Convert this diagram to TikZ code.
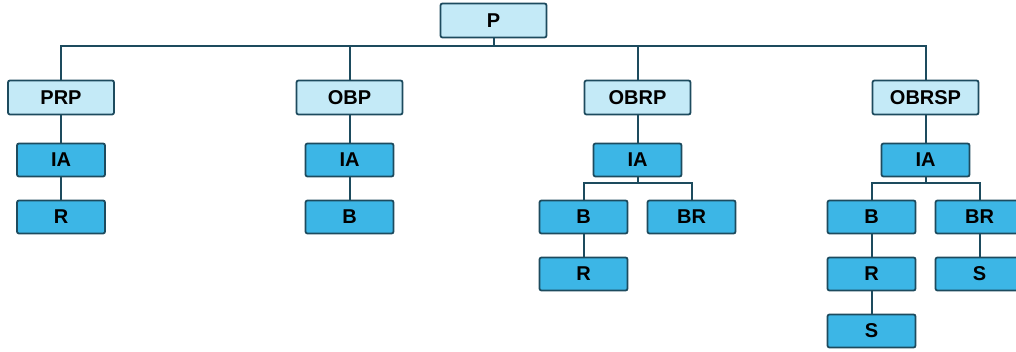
\documentclass[tikz,border=0pt]{standalone}
\usepackage{fontspec}
\setmainfont{Liberation Sans}
\definecolor{lightfill}{HTML}{C4EAF7}
\definecolor{darkfill}{HTML}{3CB6E6}
\definecolor{edge}{HTML}{1D4B5E}
\begin{document}
\begin{tikzpicture}[x=1pt,y=-1pt,
  base/.style={draw=edge,line width=1.8pt,rounded corners=2pt,inner sep=0pt,
    font=\fontsize{20}{23}\selectfont\bfseries,text=black},
  topbox/.style={base,fill=lightfill,minimum width=106pt,minimum height=34pt},
  subbox/.style={base,fill=darkfill,minimum width=88pt,minimum height=33pt},
  conn/.style={draw=edge,line width=2pt}]
\useasboundingbox (0,0) rectangle (1016,352);
\begin{scope}
\clip (0,0) rectangle (1016,352);
\node[topbox] (P) at (493.5,20.5) {P};
\node[topbox] (PRP) at (61,97.5) {PRP};
\node[topbox] (OBP) at (349.5,97.5) {OBP};
\node[topbox] (OBRP) at (637.5,97.5) {OBRP};
\node[topbox] (OBRSP) at (925.5,97.5) {OBRSP};

\node[subbox] (IA1) at (61,160) {IA};
\node[subbox] (R1) at (61,217) {R};

\node[subbox] (IA2) at (349.5,160) {IA};
\node[subbox] (B2) at (349.5,217) {B};

\node[subbox] (IA3) at (637.5,160) {IA};
\node[subbox] (B3) at (583.5,217) {B};
\node[subbox] (BR3) at (691.5,217) {BR};
\node[subbox] (R3) at (583.5,274) {R};

\node[subbox] (IA4) at (925.5,160) {IA};
\node[subbox] (B4) at (871.5,217) {B};
\node[subbox] (BR4) at (979.5,217) {BR};
\node[subbox] (R4) at (871.5,274) {R};
\node[subbox] (S4a) at (871.5,331) {S};
\node[subbox] (S4b) at (979.5,274) {S};

\begin{scope}[on background layer/.try]
\foreach \c in {PRP,OBP,OBRP,OBRSP}
  \draw[conn] (P.south) -- ++(0,7.5) -| (\c.north);
\draw[conn] (PRP) -- (IA1);
\draw[conn] (IA1) -- (R1);
\draw[conn] (OBP) -- (IA2);
\draw[conn] (IA2) -- (B2);
\draw[conn] (OBRP) -- (IA3);
\draw[conn] (IA3.south) -- ++(0,6) -| (B3.north);
\draw[conn] (IA3.south) -- ++(0,6) -| (BR3.north);
\draw[conn] (B3) -- (R3);
\draw[conn] (OBRSP) -- (IA4);
\draw[conn] (IA4.south) -- ++(0,6) -| (B4.north);
\draw[conn] (IA4.south) -- ++(0,6) -| (BR4.north);
\draw[conn] (B4) -- (R4);
\draw[conn] (R4) -- (S4a);
\draw[conn] (BR4) -- (S4b);
\end{scope}
\end{scope}
\end{tikzpicture}
\end{document}
